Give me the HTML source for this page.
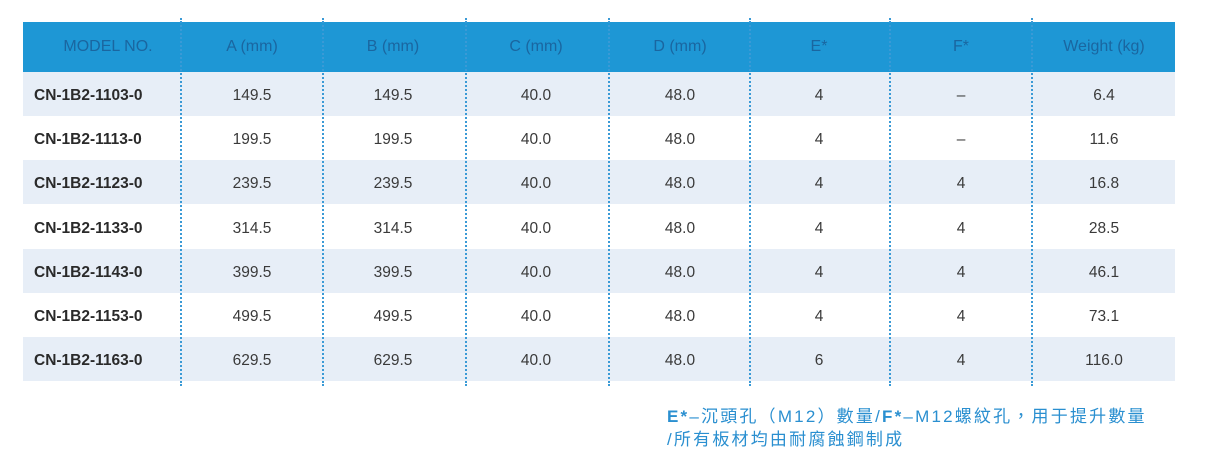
<!DOCTYPE html>
<html><head><meta charset="utf-8"><style>
body{margin:0;width:1208px;height:475px;background:#fff;position:relative;font-family:"Liberation Sans","Noto Sans CJK TC",sans-serif;overflow:hidden}
.hdr{position:absolute;left:23px;top:22px;width:1152px;height:50px;background:#1e97d5}
.row{position:absolute;left:23px;width:1152px;height:44px}
.sh{background:#e7eef7}
.t{position:absolute;transform:translateX(-50%);white-space:nowrap;z-index:3}
.h{color:#1a66a0;font-size:16px;top:38px}
.c{font-size:15.5px;color:#3a3a3a}
.m{position:absolute;left:34px;font-size:15.5px;font-weight:bold;color:#2a2a2a;z-index:3}
.d{position:absolute;top:18px;height:368px;width:0;border-left:2px dotted #3a9ad6;z-index:2}
.note{position:absolute;left:667px;font-size:17px;color:#2a8fd0;letter-spacing:2.2px;white-space:nowrap}
</style></head><body>
<div class="hdr"></div>
<div class="row sh" style="top:72px"></div>
<div class="row sh" style="top:160px"></div>
<div class="row sh" style="top:249px"></div>
<div class="row sh" style="top:337px"></div>
<div class="d" style="left:180px"></div>
<div class="d" style="left:322px"></div>
<div class="d" style="left:465px"></div>
<div class="d" style="left:608px"></div>
<div class="d" style="left:749px"></div>
<div class="d" style="left:889px"></div>
<div class="d" style="left:1031px"></div>
<div class="t h" style="left:108px">MODEL NO.</div>
<div class="t h" style="left:252px">A (mm)</div>
<div class="t h" style="left:393px">B (mm)</div>
<div class="t h" style="left:536px">C (mm)</div>
<div class="t h" style="left:680px">D (mm)</div>
<div class="t h" style="left:819px">E*</div>
<div class="t h" style="left:961px">F*</div>
<div class="t h" style="left:1104px">Weight (kg)</div>
<div id="rows"></div>
<script>
var d=[["CN-1B2-1103-0","149.5","149.5","40.0","48.0","4","–","6.4"],
["CN-1B2-1113-0","199.5","199.5","40.0","48.0","4","–","11.6"],
["CN-1B2-1123-0","239.5","239.5","40.0","48.0","4","4","16.8"],
["CN-1B2-1133-0","314.5","314.5","40.0","48.0","4","4","28.5"],
["CN-1B2-1143-0","399.5","399.5","40.0","48.0","4","4","46.1"],
["CN-1B2-1153-0","499.5","499.5","40.0","48.0","4","4","73.1"],
["CN-1B2-1163-0","629.5","629.5","40.0","48.0","6","4","116.0"]];
var xs=[252,393,536,680,819,961,1104],h="";
d.forEach(function(r,i){var y=87+i*44.2;
h+='<div class="m" style="top:'+y+'px">'+r[0]+'</div>';
for(var j=1;j<8;j++)h+='<div class="t c" style="top:'+y+'px;left:'+xs[j-1]+'px">'+r[j]+'</div>';});
document.getElementById("rows").innerHTML=h;
</script>
<div class="note" style="top:402px"><b>E*</b>–沉頭孔（M12）數量/<b>F*</b>–M12螺紋孔，用于提升數量</div>
<div class="note" style="top:425px">/所有板材均由耐腐蝕鋼制成</div>
</body></html>
